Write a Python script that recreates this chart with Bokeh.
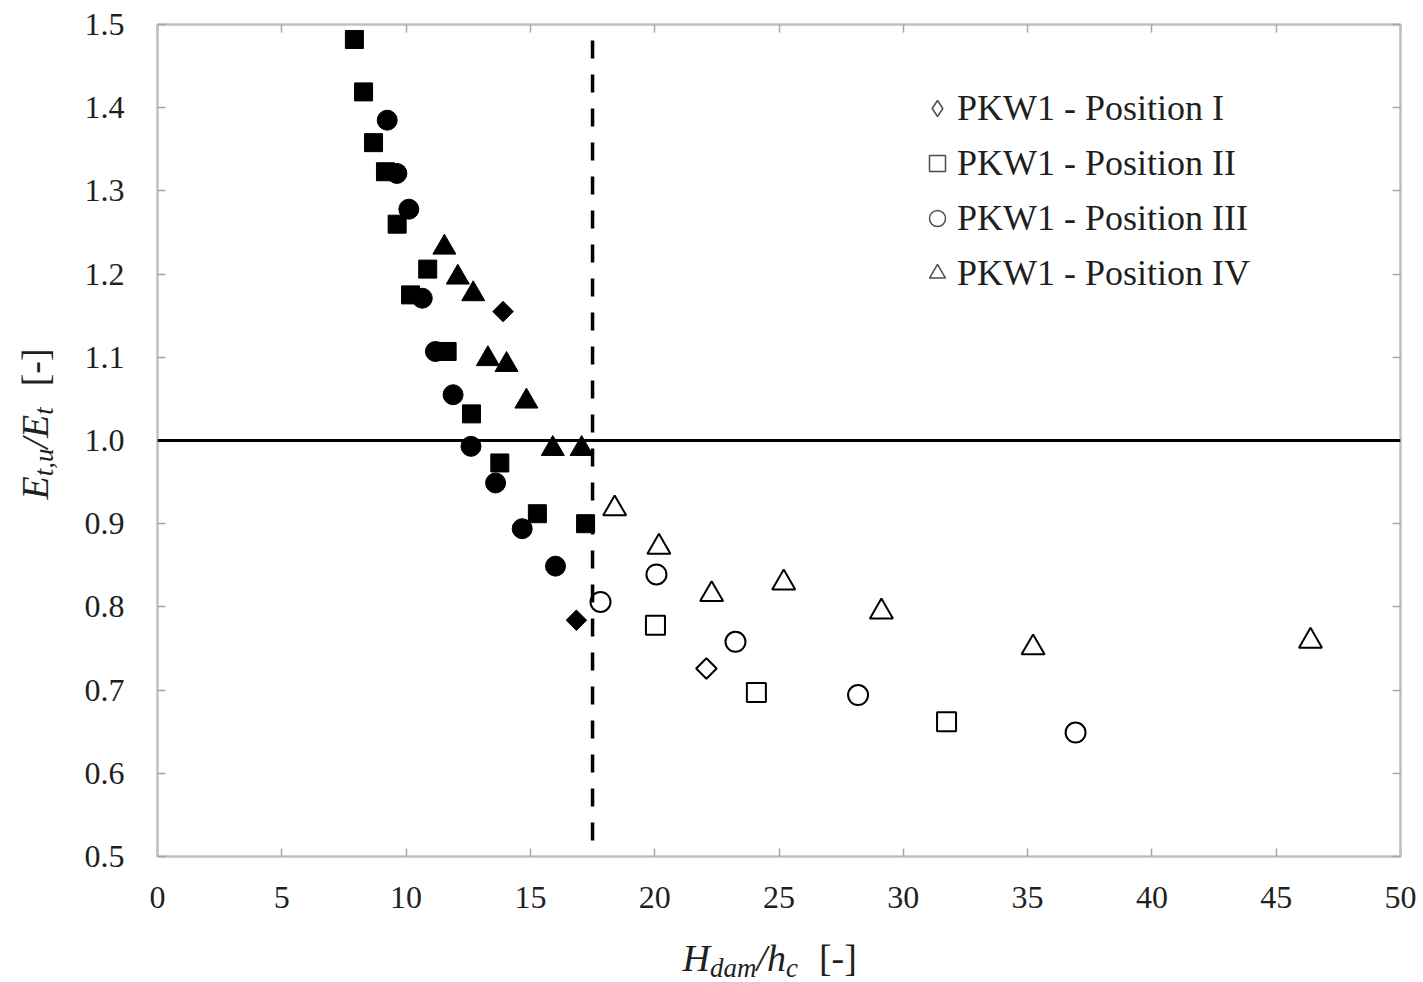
import math

from bokeh.core.properties import value
from bokeh.embed import file_html
from bokeh.layouts import column, row
from bokeh.models import (CustomJSTickFormatter, FixedTicker, Legend,
                          LegendItem, LinearAxis, PrintfTickFormatter, Range1d,
                          Span)
from bokeh.plotting import figure
from bokeh.resources import INLINE

# ---------------------------------------------------------------- data
# filled markers: below the threshold, open markers: above it
pos1_x_filled = [13.90, 16.85]
pos1_y_filled = [1.155, 0.784]
pos1_x_open = [22.08]
pos1_y_open = [0.726]

pos2_x_filled = [7.92, 8.29, 8.69, 9.17, 9.64, 10.18, 10.87, 11.65, 12.63, 13.77, 15.28, 17.22]
pos2_y_filled = [1.482, 1.419, 1.358, 1.323, 1.260, 1.175, 1.206, 1.107, 1.032, 0.973, 0.912, 0.900]
pos2_x_open = [20.03, 24.09, 31.74]
pos2_y_open = [0.778, 0.697, 0.662]

pos3_x_filled = [9.24, 9.63, 10.11, 10.65, 11.18, 11.89, 12.61, 13.60, 14.67, 16.01]
pos3_y_filled = [1.385, 1.321, 1.278, 1.171, 1.107, 1.055, 0.993, 0.949, 0.894, 0.849]
pos3_x_open = [17.82, 20.07, 23.25, 28.18, 36.93]
pos3_y_open = [0.806, 0.839, 0.758, 0.694, 0.649]

pos4_x_filled = [11.54, 12.08, 12.70, 13.29, 14.04, 14.84, 15.90, 17.06]
pos4_y_filled = [1.232, 1.196, 1.176, 1.098, 1.091, 1.047, 0.990, 0.990]
pos4_x_open = [18.39, 20.17, 22.29, 25.19, 29.12, 35.22, 46.38]
pos4_y_open = [0.918, 0.872, 0.815, 0.829, 0.794, 0.751, 0.759]

series_labels = ["PKW1 - Position I", "PKW1 - Position II",
                 "PKW1 - Position III", "PKW1 - Position IV"]

x_ticks = [0, 5, 10, 15, 20, 25, 30, 35, 40, 45, 50]
y_ticks = [0.5, 0.6, 0.7, 0.8, 0.9, 1.0, 1.1, 1.2, 1.3, 1.4, 1.5]

ratio_ref = 1.0        # E_t,u / E_t = 1
threshold = 17.5       # H_dam / h_c limit

# ---------------------------------------------------------------- layout
W, H = 1423, 982
TITLE_W = 64                     # strip on the left holding the y title
MAIN_W, MAIN_H = W - TITLE_W, 930
BOT_H = H - MAIN_H               # strip below holding the x title
LEFT, RIGHT, TOP, FRAME_BOTTOM = 157, 23, 24, 856
X0, X1, Y0, Y1 = 0, 50, 0.5, 1.5

SERIF = "Liberation Serif"
TXT = "#1f1f1f"
FRAME = "#bfbfbf"

p = figure(width=MAIN_W, height=MAIN_H, x_range=Range1d(X0, X1), y_range=Range1d(Y0, Y1),
           output_backend="svg", toolbar_location=None,
           min_border_left=LEFT - TITLE_W, min_border_right=RIGHT,
           min_border_top=TOP, min_border_bottom=MAIN_H - FRAME_BOTTOM)
p.background_fill_color = "white"
p.border_fill_color = "white"
p.outline_line_color = FRAME
p.outline_line_width = 2
p.xgrid.grid_line_color = None
p.ygrid.grid_line_color = None


def style_axis(ax, ticks):
    ax.ticker = FixedTicker(ticks=ticks)
    ax.axis_line_color = FRAME
    ax.axis_line_width = 2
    ax.major_tick_line_color = "#a6a6a6"
    ax.major_tick_line_width = 1.5
    ax.major_tick_in = 8
    ax.major_tick_out = 0
    ax.minor_tick_line_color = None
    ax.major_label_text_font = SERIF
    ax.major_label_text_font_size = "32px"
    ax.major_label_text_color = TXT


style_axis(p.xaxis[0], x_ticks)
p.xaxis[0].major_label_standoff = 30
style_axis(p.yaxis[0], y_ticks)
p.yaxis[0].formatter = PrintfTickFormatter(format="%.1f")
p.yaxis[0].major_label_standoff = 33

blank = CustomJSTickFormatter(code="return ''")
top_axis = LinearAxis(formatter=blank, major_label_standoff=0)
style_axis(top_axis, x_ticks)
p.add_layout(top_axis, "above")
right_axis = LinearAxis(formatter=blank, major_label_standoff=0)
style_axis(right_axis, y_ticks)
p.add_layout(right_axis, "right")

# ---------------------------------------------------------------- reference lines
p.add_layout(Span(location=ratio_ref, dimension="width", line_color="black", line_width=3))
p.add_layout(Span(location=threshold, dimension="height", line_color="black",
                  line_width=3.5, line_dash="18 16", line_dash_offset=18))

# ---------------------------------------------------------------- markers
DIAMOND = dict(marker="square", angle=math.pi / 4)

p.scatter(pos2_x_filled, pos2_y_filled, marker="square", size=18, color="black")
p.scatter(pos3_x_filled, pos3_y_filled, marker="circle", size=20, color="black")
p.scatter(pos4_x_filled, pos4_y_filled, marker="triangle", size=23, color="black")
p.scatter(pos1_x_filled, pos1_y_filled, size=14.5, color="black", **DIAMOND)

OPEN = dict(fill_color=None, line_color="black", line_width=2)
p.scatter(pos1_x_open, pos1_y_open, size=14.5, **DIAMOND, **OPEN)
p.scatter(pos2_x_open, pos2_y_open, marker="square", size=19, **OPEN)
p.scatter(pos3_x_open, pos3_y_open, marker="circle", size=20, **OPEN)
p.scatter(pos4_x_open, pos4_y_open, marker="triangle", size=23, **OPEN)

# legend keys: zero-size copies of the open series, styled for the legend
KEY = dict(size=0, fill_color=None, line_color="#4d4d4d", line_width=1.5)
keys = [
    p.scatter(pos1_x_open, pos1_y_open, marker="diamond", **KEY),
    p.scatter(pos2_x_open, pos2_y_open, marker="square", **KEY),
    p.scatter(pos3_x_open, pos3_y_open, marker="circle", **KEY),
    p.scatter(pos4_x_open, pos4_y_open, marker="triangle", **KEY),
]

legend = Legend(
    items=[LegendItem(label=lab, renderers=[r]) for lab, r in zip(series_labels, keys)],
    location=(760, 561), orientation="vertical",
    glyph_width=40, glyph_height=44, label_height=44, label_standoff=0,
    spacing=11, padding=0, margin=0,
    border_line_color=None, background_fill_alpha=0,
    label_text_font=SERIF, label_text_font_size="36px", label_text_color=TXT,
)
p.add_layout(legend)


# ---------------------------------------------------------------- axis titles
def strip(width, height, x_range):
    f = figure(width=width, height=height, x_range=x_range, y_range=Range1d(H - height, H),
               output_backend="svg", toolbar_location=None, min_border=0,
               x_axis_location=None, y_axis_location=None)
    f.outline_line_color = None
    f.grid.grid_line_color = None
    f.background_fill_color = "white"
    f.border_fill_color = "white"
    return f


# both strips use page pixels (y measured upwards from the page bottom);
# the bottom strip's frame lines up with the main frame inside the column
p_left = strip(TITLE_W, H, Range1d(0, TITLE_W))
p_bottom = strip(MAIN_W, BOT_H, Range1d(LEFT, W - RIGHT))
p_bottom.y_range = Range1d(0, BOT_H)

ITALIC_W = {"H": .722, "d": .5, "a": .5, "m": .722, "/": .278, "h": .5,
            "c": .444, "E": .611, "t": .278, ",": .25, "u": .5}
ROMAN_W = {" ": .55, "[": .333, "-": .333, "]": .333}
BASE_CORR = 0.34   # glyph text sits this many em below the requested baseline


def run_width(s, size, italic):
    table = ITALIC_W if italic else ROMAN_W
    return sum(table[ch] for ch in s) * size


def title(target, pieces, start, base, sub_shift, vertical):
    """Lay out italic/subscript runs along a baseline given in page pixels."""
    pos = start
    for text, size, italic, sub in pieces:
        b = base + (sub_shift if sub else 0) - BASE_CORR * size
        lead = ROMAN_W[" "] * size if text.startswith(" ") else 0
        body = text.lstrip(" ")
        pos = pos - lead if vertical else pos + lead
        px, py = (b, pos) if vertical else (pos, b)
        target.text(x=[px], y=[H - py], text=[body],
                    angle=math.pi / 2 if vertical else 0,
                    text_font=value(SERIF), text_font_size=value(f"{size}px"),
                    text_font_style=value("italic" if italic else "normal"),
                    text_color=TXT, text_align=value("left"),
                    text_baseline=value("alphabetic"))
        step = run_width(body, size, italic)
        pos = pos - step if vertical else pos + step


MAIN, SUB = 38, 27
title(p_bottom,
      [("H", MAIN, True, False), ("dam", SUB, True, True), ("/h", MAIN, True, False),
       ("c", SUB, True, True), (" [-]", MAIN, False, False)],
      start=682, base=970, sub_shift=7, vertical=False)
title(p_left,
      [("E", MAIN, True, False), ("t,u", SUB, True, True), ("/E", MAIN, True, False),
       ("t", SUB, True, True), (" [-]", MAIN, False, False)],
      start=499, base=47, sub_shift=6, vertical=True)

page = row(p_left, column(p, p_bottom))
open("out.html", "w").write(file_html(page, INLINE))
